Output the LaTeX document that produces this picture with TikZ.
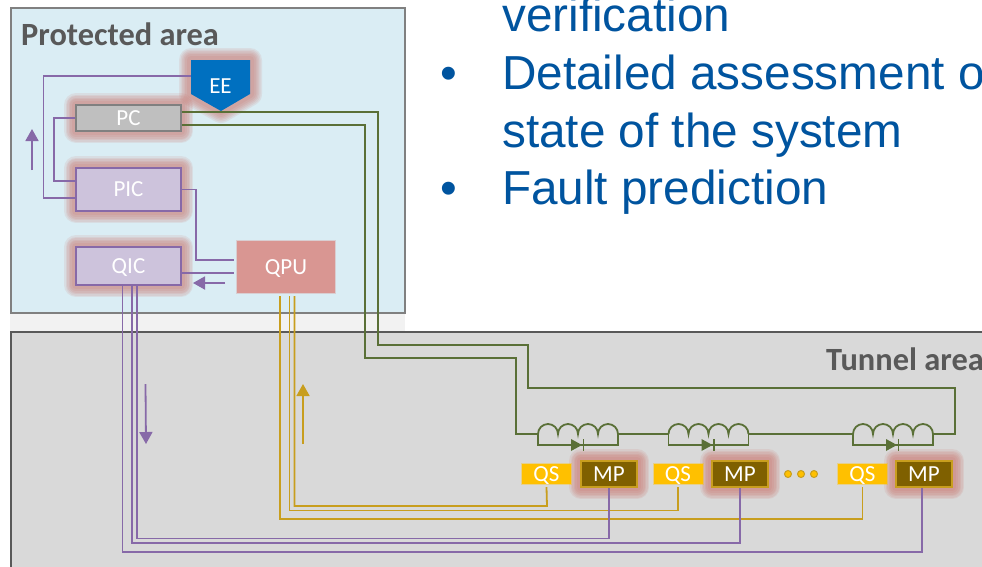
\documentclass[tikz,border=0pt]{standalone}
\usepackage{fontspec}
\setmainfont{Carlito}
\newfontfamily\slidefont{Liberation Sans}
\usetikzlibrary{arrows.meta}
\definecolor{protblue}{RGB}{218, 237, 244}
\definecolor{tunnelgray}{RGB}{217, 217, 217}
\definecolor{stripgray}{RGB}{242, 242, 242}
\definecolor{labelgray}{RGB}{89, 89, 89}
\definecolor{slideblue}{RGB}{0, 84, 159}
\definecolor{sigpurple1}{RGB}{135, 105, 168}
\definecolor{siggreen1}{RGB}{90, 112, 55}
\definecolor{siggold1}{RGB}{200, 158, 30}
\definecolor{glowred}{RGB}{200, 95, 85}
\definecolor{eeblue}{RGB}{0, 112, 192}
\definecolor{pcgray}{RGB}{191, 191, 191}
\definecolor{icfill}{RGB}{205, 195, 220}
\definecolor{qpufill}{RGB}{217, 150, 146}
\definecolor{qsfill}{RGB}{255, 192, 0}
\definecolor{mpfill}{RGB}{127, 96, 0}
\tikzset{
  x=1pt, y=-1pt,
  glowring/.style={preaction={draw=glowred, draw opacity=.11, line width=#1, line join=round}},
  glow/.style={glowring=24pt, glowring=21pt, glowring=18pt, glowring=15pt, glowring=12pt, glowring=8pt},
  softedge/.style={preaction={draw=#1, draw opacity=.35, line width=2pt}},
  boxlabel/.style={inner sep=0pt, text=white, text depth=0pt, font=\fontsize{23}{26}\selectfont},
  ctrlbox/.style={boxlabel, draw=sigpurple1, line width=1.8pt, fill=icfill, minimum width=105pt, glow},
  qsbox/.style={boxlabel, fill=qsfill, minimum width=49pt, minimum height=20pt, softedge=qsfill},
  mpbox/.style={boxlabel, draw=siggold1, line width=1.4pt, fill=mpfill, minimum width=56pt, minimum height=26pt, glow},
  arealabel/.style={anchor=base west, inner sep=0pt, text=labelgray, font=\fontsize{32.4}{36}\selectfont\bfseries},
  slidetext/.style={anchor=base west, inner sep=0pt, text=slideblue, font=\fontsize{47.7}{50}\slidefont},
  sigpurple/.style={draw=sigpurple1, line width=1.8pt},
  siggreen/.style={draw=siggreen1, line width=1.8pt},
  siggold/.style={draw=siggold1, line width=1.8pt},
  flowtip/.style={-{Triangle[length=12pt, width=13pt]}, line width=1.8pt},
  dotgold/.style={circle, draw=siggold1, fill=qsfill, line width=1pt, minimum size=7pt, inner sep=0pt},
  coilcell/.pic={
    \coordinate (-in) at (0,0);
    \coordinate (-out) at (80,0);
    \draw[siggreen] (-in) arc[start angle=180, end angle=0, radius=10pt]
      arc[start angle=180, end angle=0, radius=10pt]
      arc[start angle=180, end angle=0, radius=10pt]
      arc[start angle=180, end angle=0, radius=10pt];
    \draw[siggreen] (-in) -- (0,11) -- (80,11) -- (-out);
    \fill[siggreen1] (33,5) -- (44,11) -- (33,17) -- cycle;
    \draw[siggreen] (45.5,5) -- (45.5,17);
  }
}
\begin{document}
\begin{tikzpicture}
  \clip (0,0) rectangle (982,566);
  \fill[white] (0,0) rectangle (982,566);

  % Slide text
  \node[slidetext] (line1) at (502,31) {verification};
  \node[slidetext] (bullet1) at (440,89) {•};
  \node[slidetext] (line2) at (502,89) {Detailed assessment o};
  \node[slidetext] (line3) at (502,147) {state of the system};
  \node[slidetext] (bullet2) at (440,204) {•};
  \node[slidetext] (line4) at (502,204) {Fault prediction};

  % Areas
  \fill[stripgray] (10,313) rectangle (405,332);
  \draw[draw=gray, line width=2pt, fill=protblue] (10.5,7.5) rectangle (405,313);
  \draw[draw=labelgray, line width=2pt, fill=tunnelgray] (11,600) -- (11,332) -- (1000,332) -- (1000,600) -- cycle;
  \node[arealabel] (protlabel) at (21,45) {Protected area};
  \node[arealabel] (tunnellabel) at (826,370) {Tunnel area};

  % Control boxes
  \node[boxlabel, glow, draw=gray, line width=1.8pt, fill=pcgray, minimum width=105pt, minimum height=26pt] (pc) at (128.5,118) {PC};
  \path[glow, fill=eeblue] (191,60) -- (250,60) -- (250,94) -- (221,111) -- (191,94) -- cycle;
  \node[boxlabel, minimum width=59pt] (ee) at (220.5,86) {EE};
  \node[ctrlbox, minimum height=43pt] (pic) at (128.5,189.5) {PIC};
  \node[ctrlbox, minimum height=38pt] (qic) at (128.5,266) {QIC};
  \node[boxlabel, fill=qpufill, minimum width=98pt, minimum height=52pt, softedge=qpufill] (qpu) at (286,267) {QPU};

  % Magnets and protection
  \node[mpbox] (mp1) at (609,474) {MP};
  \node[mpbox] (mp2) at (740,474) {MP};
  \node[mpbox] (mp3) at (924,474) {MP};
  \node[qsbox] (qs1) at (546.5,474) {QS};
  \node[qsbox] (qs2) at (678,474) {QS};
  \node[qsbox] (qs3) at (862.5,474) {QS};
  \node[dotgold] (dot1) at (788,474) {};
  \node[dotgold] (dot2) at (801,474) {};
  \node[dotgold] (dot3) at (814,474) {};
  \pic (c1) at (538,434) {coilcell};
  \pic (c2) at (668.5,434) {coilcell};
  \pic (c3) at (853,434) {coilcell};

  % Purple lines in the protected area
  \draw[sigpurple] ([yshift=10pt]ee.west) -- (43.5,76) |- ([yshift=-8.5pt]pic.west);
  \draw[sigpurple] (pc.west) -- (54,118) |- ([yshift=8.5pt]pic.west);
  \draw[sigpurple] (pic.east) -- (196,189.5) |- ([xshift=-3pt,yshift=7pt]qpu.west);
  \draw[sigpurple] ([yshift=-7pt]qic.east) -- ([xshift=-3pt,yshift=-6pt]qpu.west);

  % Green chain
  \draw[siggreen] ([yshift=6pt]pc.east) -- (378,112) -- (378,345) -- (528,345) -- (528,388) -- (955,388) |- (c3-out);
  \draw[siggreen] ([yshift=-7pt]pc.east) -- (365,125) -- (365,358) -- (516,358) |- (c1-in);
  \draw[siggreen] (c1-out) -- (c2-in);
  \draw[siggreen] (c2-out) -- (c3-in);

  % Gold lines
  \draw[siggold] ([xshift=8.5pt,yshift=-3pt]qpu.south) |- (547,506) -- ([yshift=-3pt]qs1.south);
  \draw[siggold] ([xshift=3.5pt,yshift=-3pt]qpu.south) |- (678,510.5) -- ([yshift=-3pt]qs2.south);
  \draw[siggold] ([xshift=-6pt,yshift=-3pt]qpu.south) |- (862.5,519) -- ([yshift=-3pt]qs3.south);

  % Purple lines to the magnets
  \draw[sigpurple] ([xshift=8.5pt]qic.south) |- (609,538.5) -- (mp1.south);
  \draw[sigpurple] ([xshift=3.5pt]qic.south) |- (740,543) -- (mp2.south);
  \draw[sigpurple] ([xshift=-6pt]qic.south) |- (922,552) -- ([xshift=-2pt]mp3.south);

  % Flow arrows
  \coordinate (upstart) at (32,170);
  \coordinate (upend) at (32,129);
  \coordinate (leftstart) at (225,283);
  \coordinate (leftend) at (193,283);
  \coordinate (downstart) at (145.5,384);
  \coordinate (downend) at (146,444);
  \coordinate (goldstart) at (303,444);
  \coordinate (goldend) at (303,384);
  \draw[flowtip, sigpurple1] (upstart) -- (upend);
  \draw[flowtip, sigpurple1] (leftstart) -- (leftend);
  \draw[flowtip, sigpurple1] (downstart) -- (downend);
  \draw[flowtip, siggold1] (goldstart) -- (goldend);
\end{tikzpicture}
\end{document}
